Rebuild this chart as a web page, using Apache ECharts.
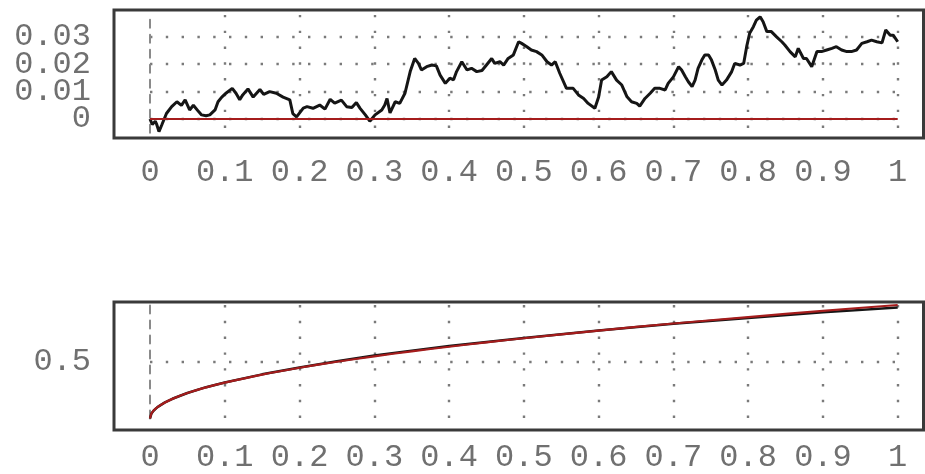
<!DOCTYPE html>
<html><head><meta charset="utf-8">
<script src="https://cdn.jsdelivr.net/npm/echarts@6/dist/echarts.min.js"></script>
<style>html,body{margin:0;padding:0;background:#fff}#c{width:925px;height:474px}</style>
</head><body><div id="c"></div>
<script>
// x tick labels shared by both panels
const xTickLabels = ['0','0.1','0.2','0.3','0.4','0.5','0.6','0.7','0.8','0.9','1'];
// top panel y labels (split over two label axes so none get hidden)
const topYLabelsA = [0, 0.02];
const topYLabelsB = [0.01, 0.03];
// bottom panel y labels
const botYLabels = [0.5];

// top panel: black random-walk trace (t, value)
const topT = [0,0.003,0.007,0.009,0.012,0.016,0.022,0.029,0.036,0.042,0.047,0.053,0.058,0.065,0.069,0.075,0.080,0.087,0.091,0.096,
0.102,0.110,0.115,0.120,0.124,0.131,0.138,0.147,0.152,0.160,0.169,0.178,0.187,0.191,0.196,0.205,0.210,0.218,0.227,0.234,
0.241,0.247,0.256,0.263,0.270,0.276,0.281,0.288,0.294,0.301,0.310,0.314,0.317,0.321,0.328,0.334,0.341,0.348,0.354,0.359,
0.363,0.370,0.377,0.383,0.388,0.395,0.401,0.406,0.410,0.417,0.424,0.430,0.437,0.444,0.450,0.457,0.461,0.468,0.473,0.479,
0.486,0.493,0.497,0.504,0.510,0.517,0.524,0.531,0.537,0.542,0.548,0.557,0.566,0.573,0.580,0.586,0.595,0.600,0.604,0.611,
0.617,0.624,0.631,0.638,0.644,0.651,0.655,0.662,0.669,0.675,0.682,0.689,0.693,0.700,0.707,0.711,0.716,0.720,0.725,0.729,
0.733,0.738,0.742,0.747,0.751,0.756,0.760,0.765,0.771,0.778,0.782,0.789,0.794,0.798,0.802,0.807,0.811,0.816,0.820,0.825,
0.831,0.838,0.845,0.849,0.856,0.863,0.867,0.874,0.878,0.885,0.892,0.898,0.905,0.912,0.918,0.925,0.932,0.938,0.945,0.952,
0.959,0.965,0.972,0.979,0.984,0.990,0.994,1.000];
const topWalk = [0,-0.002,-0.0008,-0.002,-0.0046,-0.002,0.002,0.0045,0.0063,0.005,0.007,0.0033,0.005,0.0027,0.0015,0.0012,0.0015,0.0033,0.0063,0.008,
0.0095,0.0112,0.0094,0.007,0.0088,0.011,0.008,0.0108,0.009,0.010,0.0094,0.008,0.007,0.002,0.0008,0.004,0.0045,0.0039,0.0051,0.0036,
0.0072,0.0058,0.0069,0.0045,0.0042,0.006,0.0039,0.0015,-0.0008,0.0015,0.0033,0.0051,0.0075,0.0022,0.0063,0.0057,0.0094,0.0173,0.0221,0.0203,
0.0179,0.0191,0.0197,0.0194,0.016,0.013,0.0149,0.0143,0.0173,0.0209,0.0179,0.0185,0.0173,0.0177,0.0197,0.0221,0.0203,0.0209,0.0197,0.0221,
0.0234,0.0282,0.0276,0.0264,0.0252,0.0246,0.0234,0.0209,0.0197,0.0209,0.0167,0.0112,0.0112,0.0088,0.0075,0.0057,0.0039,0.008,0.0142,0.0154,
0.0173,0.0142,0.0124,0.0081,0.0063,0.0057,0.0047,0.0075,0.0094,0.0112,0.0112,0.0106,0.013,0.0154,0.0191,0.0179,0.0154,0.0136,0.0118,0.0142,
0.0185,0.0215,0.0234,0.0234,0.0215,0.0179,0.0142,0.0124,0.0142,0.0173,0.0203,0.0197,0.0203,0.0264,0.0313,0.0337,0.0361,0.0373,0.0355,0.0319,
0.0319,0.030,0.0282,0.027,0.0246,0.0227,0.0258,0.0221,0.0221,0.0191,0.0246,0.0246,0.0252,0.0258,0.0264,0.0252,0.0246,0.0246,0.0252,0.0276,
0.0282,0.0288,0.0282,0.0278,0.0325,0.0306,0.0306,0.0282];
// top panel: red reference line
const topRefT = [0, 1];
const topRef = [0, 0];

// bottom panel: empirical (black) and reference (red) curves
const botT = [0,0.002,0.005,0.01,0.02,0.03,0.05,0.075,0.1,0.15,0.2,0.25,0.3,0.35,0.4,0.45,0.5,0.6,0.7,0.8,0.9,1];
const botEmp = [0,0.045,0.071,0.1,0.142,0.174,0.225,0.276,0.317,0.389,0.45,0.505,0.555,0.598,0.638,0.675,0.709,0.775,0.834,0.886,0.935,0.978];
const botRef = [0,0.045,0.071,0.1,0.141,0.173,0.224,0.274,0.316,0.387,0.447,0.5,0.548,0.592,0.632,0.671,0.707,0.775,0.837,0.894,0.949,1];

const pairs = (xs, ys) => xs.map((x, i) => [x, ys[i]]);
const font = {fontFamily: 'Liberation Mono', fontSize: 32, color: '#707070', lineHeight: 20,
  hideOverlap: false, showMinLabel: true, showMaxLabel: true};
const dotted = {color: '#7a7a7a', width: 2.4, type: [2.4, 13.4]};
const dashed = {color: '#8a8a8a', width: 2, type: [8, 7]};
const xLabel = v => xTickLabels[Math.round(v * 10)];
const topFmt = v => v === 0 ? '0' : v.toFixed(2);

function xAxis(gi) {
  return {type: 'value', gridIndex: gi, min: 0, max: 1, interval: 0.1,
    axisLine: {show: false, onZero: false}, axisTick: {show: false},
    axisLabel: Object.assign({margin: 29.5, formatter: xLabel}, font),
    splitLine: {show: true, showMinLine: false, lineStyle: dotted}};
}

const chart = echarts.init(document.getElementById('c'), null, {renderer: 'canvas'});
chart.setOption({
  animation: false,
  backgroundColor: '#fff',
  grid: [
    {left: 150, right: 27.3, top: 14.9, height: 117.8},
    {left: 150, right: 27.3, top: 305, height: 120}
  ],
  xAxis: [xAxis(0), xAxis(1)],
  yAxis: [
    {type: 'value', gridIndex: 0, min: -0.005, max: 0.038, position: 'left',
      axisLine: {show: true, onZero: false, lineStyle: dashed}, axisTick: {show: false},
      axisLabel: Object.assign({margin: 59, customValues: topYLabelsA, formatter: topFmt}, font),
      splitLine: {show: true, showMinLine: false, showMaxLine: false, lineStyle: dotted}},
    {type: 'value', gridIndex: 1, min: 0, max: 1, interval: 0.5,
      axisLine: {show: true, onZero: false, lineStyle: dashed}, axisTick: {show: false},
      axisLabel: Object.assign({margin: 59, customValues: botYLabels,
        formatter: v => v.toFixed(1)}, font),
      splitLine: {show: true, showMinLine: false, showMaxLine: false, lineStyle: dotted}},
    {type: 'value', gridIndex: 0, min: -0.005, max: 0.038, position: 'left', offset: 0,
      axisLine: {show: false, onZero: false}, axisTick: {show: false},
      axisLabel: Object.assign({margin: 59, customValues: topYLabelsB, formatter: topFmt}, font),
      splitLine: {show: false}}
  ],
  graphic: [
    {type: 'rect', shape: {x: 114, y: 10, width: 809.5, height: 128}, style: {fill: 'none', stroke: '#3a3a3a', lineWidth: 3}, z: 100},
    {type: 'rect', shape: {x: 114, y: 302, width: 809.5, height: 128}, style: {fill: 'none', stroke: '#3a3a3a', lineWidth: 3}, z: 100}
  ],
  series: [
    {type: 'line', xAxisIndex: 0, yAxisIndex: 0, data: pairs(topT, topWalk), showSymbol: false, clip: false,
      lineStyle: {color: '#151515', width: 3}},
    {type: 'line', xAxisIndex: 0, yAxisIndex: 0, data: pairs(topRefT, topRef), showSymbol: false,
      lineStyle: {color: '#a51c1c', width: 2.2}},
    {type: 'line', xAxisIndex: 1, yAxisIndex: 1, data: pairs(botT, botEmp), showSymbol: false, clip: false,
      lineStyle: {color: '#151515', width: 2.5}},
    {type: 'line', xAxisIndex: 1, yAxisIndex: 1, data: pairs(botT, botRef), showSymbol: false, smooth: 0.3, clip: false,
      lineStyle: {color: '#a51c1c', width: 2.2}}
  ]
});
</script></body></html>
